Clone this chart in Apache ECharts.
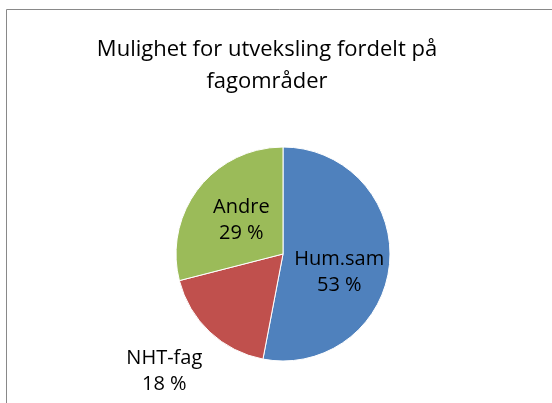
<!DOCTYPE html>
<html>
<head>
<meta charset="utf-8">
<script src="https://cdn.jsdelivr.net/npm/echarts@6/dist/echarts.min.js"></script>
<style>
	html, body { margin: 0; padding: 0; background: #fff; }
	#chart { width: 552px; height: 403px; }
</style>
</head>
<body>
<div id="chart"></div>
<script>
	// fagområder og andeler (%)
	var categories = ['Hum.sam', 'NHT-fag', 'Andre'];
	var values = [53, 18, 29];
	var colors = ['#4F81BD', '#C0504D', '#9BBB59'];
	// små justeringer av etikettene, slik Excel plasserer dem
	var labelOffsets = [[0, 13], [-80, 76], [3, 1]];

	var myChart = echarts.init(document.getElementById('chart'));
	var fontName = 'Open Sans';

	var pieData = [];
	for (var i = 0; i < categories.length; i++) {
		pieData.push({
			name: categories[i],
			value: values[i],
			itemStyle: { color: colors[i] },
			label: { offset: labelOffsets[i] }
		});
	}

	var option = {
		animation: false,
		backgroundColor: '#fff',
		title: {
			text: 'Mulighet for utveksling fordelt på\nfagområder',
			left: 262,
			top: 29,
			textAlign: 'center',
			textStyle: {
				fontFamily: fontName,
				fontSize: 22,
				fontWeight: 'normal',
				color: '#000',
				lineHeight: 32
			}
		},
		graphic: [{
			type: 'rect',
			shape: { x: 6.5, y: 9.5, width: 600, height: 500 },
			style: { fill: 'none', stroke: '#898989', lineWidth: 1 },
			silent: true
		}],
		series: [{
			type: 'pie',
			center: [283, 254],
			radius: 107,
			startAngle: 90,
			clockwise: true,
			label: {
				show: true,
				position: 'inside',
				formatter: function(p) {
					return p.name + '\n' + p.value + ' %';
				},
				fontFamily: fontName,
				fontSize: 20,
				color: '#000',
				lineHeight: 26
			},
			labelLine: { show: false },
			itemStyle: { borderColor: '#fff', borderWidth: 1 },
			emphasis: { disabled: true },
			data: pieData
		}]
	};
	myChart.setOption(option);
</script>
</body>
</html>
